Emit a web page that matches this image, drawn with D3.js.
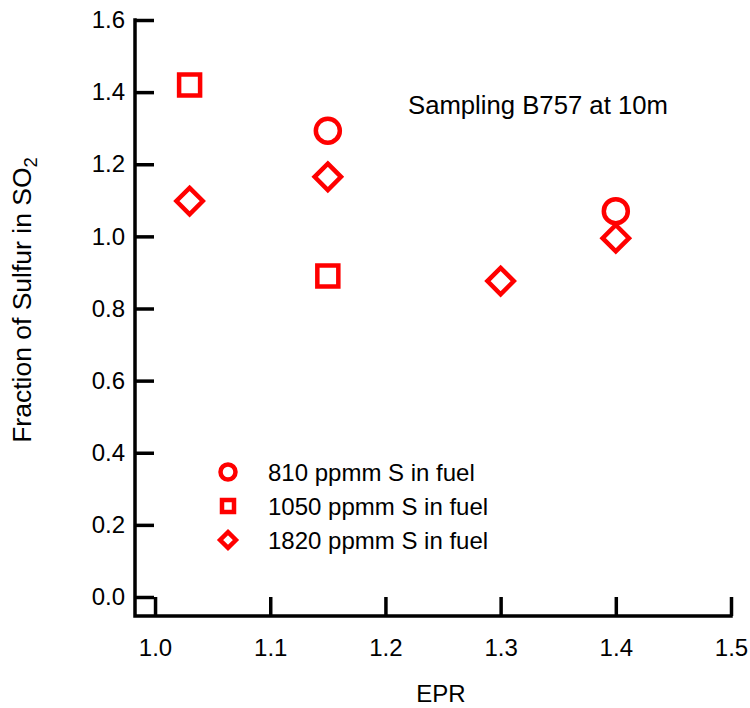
<!DOCTYPE html>
<html>
<head>
<meta charset="utf-8">
<script src="https://cdn.jsdelivr.net/npm/d3@7"></script>
<style>
  html, body { margin: 0; padding: 0; background: #fff; }
  text { font-family: "Liberation Sans", Arial, sans-serif; fill: #000; }
</style>
</head>
<body>
<svg id="chart" width="750" height="708"></svg>
<script>
// ---- data ----
const xTicks = [1.0, 1.1, 1.2, 1.3, 1.4, 1.5];
const yTicks = [0.0, 0.2, 0.4, 0.6, 0.8, 1.0, 1.2, 1.4, 1.6];
const seriesNames = ["810 ppmm S in fuel", "1050 ppmm S in fuel", "1820 ppmm S in fuel"];
const seriesShapes = ["circle", "square", "diamond"];
const s810  = [[1.15, 1.293], [1.40, 1.070]];
const s1050 = [[1.03, 1.420], [1.15, 0.890]];
const s1820 = [[1.03, 1.098], [1.15, 1.165], [1.30, 0.876], [1.40, 0.995]];
const seriesData = [s810, s1050, s1820];
const annotation = "Sampling B757 at 10m";

// ---- layout ----
const svg = d3.select("#chart");
const mLeft = 135, mRight = 731, mTop = 20, mBottom = 616;
const x = d3.scaleLinear().domain([0.9826, 1.5]).range([mLeft, mRight]);
const y = d3.scaleLinear().domain([-0.0527, 1.6]).range([mBottom, mTop]);
const red = "#ff0000";
const fs = 24;

// axes
const xAxis = d3.axisBottom(x).tickValues(xTicks).tickSize(-19).tickPadding(20).tickFormat(d3.format(".1f"));
const yAxis = d3.axisLeft(y).tickValues(yTicks).tickSize(-19).tickPadding(12).tickFormat(d3.format(".1f"));

const gx = svg.append("g").attr("transform", `translate(0,${mBottom})`).call(xAxis);
const gy = svg.append("g").attr("transform", `translate(${mLeft},0)`).call(yAxis);
[gx, gy].forEach(g => {
  g.select(".domain").remove();
  g.selectAll(".tick line").attr("stroke", "#000").attr("stroke-width", 3.5);
  g.selectAll(".tick text").attr("font-size", fs).attr("font-family", "Liberation Sans, Arial, sans-serif").attr("fill", "#000");
});
gx.selectAll(".tick text").attr("dy", "0.71em").attr("y", 23);
gy.selectAll(".tick text").attr("x", -10);

// axis lines
svg.append("path")
  .attr("d", `M${mLeft},${mTop}V${mBottom}H${mRight}`)
  .attr("fill", "none").attr("stroke", "#000").attr("stroke-width", 3.5).attr("stroke-linecap", "square");

// symbol paths
function shapePath(shape, s) {
  if (shape === "circle") return d3.symbol(d3.symbolCircle, Math.PI * s * s)();
  if (shape === "square") return d3.symbol(d3.symbolSquare, (2 * s) * (2 * s))();
  const d = s * 1.28;
  return `M0,${-d}L${d},0L0,${d}L${-d},0Z`;
}
const markSize = { circle: 12, square: 10.5, diamond: 10.3 };
const legSize  = { circle: 7.5, square: 6, diamond: 6.2 };

seriesData.forEach((ser, i) => {
  const shape = seriesShapes[i];
  svg.append("g").selectAll("path").data(ser).join("path")
    .attr("transform", d => `translate(${x(d[0])},${y(d[1])})`)
    .attr("d", shapePath(shape, markSize[shape]))
    .attr("fill", "none").attr("stroke", red).attr("stroke-width", 4.5);
});

// legend
const legY = [472, 506, 540];
seriesNames.forEach((name, i) => {
  const shape = seriesShapes[i];
  svg.append("path")
    .attr("transform", `translate(228,${legY[i]})`)
    .attr("d", shapePath(shape, legSize[shape]))
    .attr("fill", "none").attr("stroke", red).attr("stroke-width", 4.5);
  svg.append("text").attr("x", 268).attr("y", legY[i]).attr("dy", "0.36em")
    .attr("font-size", fs).text(name);
});

// annotation
svg.append("text").attr("x", 408).attr("y", 114).attr("font-size", 25.7).text(annotation);

// axis titles
svg.append("text").attr("x", 441).attr("y", 702).attr("text-anchor", "middle")
  .attr("font-size", fs).text("EPR");
const yt = svg.append("text").attr("transform", "translate(31,300) rotate(-90)").attr("text-anchor", "middle")
  .attr("font-size", 26.5);
yt.append("tspan").text("Fraction of Sulfur in SO");
yt.append("tspan").attr("font-size", 26.5 * 0.7).attr("dy", 6).text("2");
</script>
</body>
</html>
